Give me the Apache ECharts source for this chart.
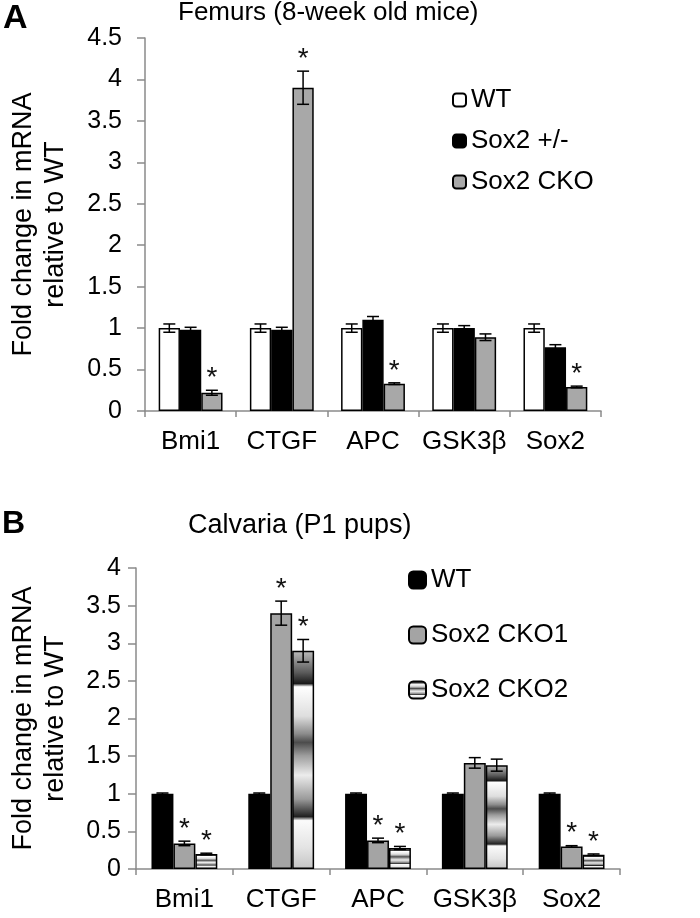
<!DOCTYPE html>
<html><head><meta charset="utf-8">
<script src="https://cdn.jsdelivr.net/npm/echarts@6/dist/echarts.min.js"></script>
<style>html,body{margin:0;padding:0;background:#fff}#c{width:700px;height:918px}</style>
</head><body><div id="c"></div>
<script>
// ---------- data ----------
const categories = ['Bmi1', 'CTGF', 'APC', 'GSK3β', 'Sox2'];

// Panel A: Femurs (8-week old mice)
const femurWT      = [1.00, 1.00, 1.00, 1.00, 1.00];
const femurWTErr   = [0.05, 0.05, 0.05, 0.05, 0.05];
const femurHet     = [0.98, 0.98, 1.10, 1.00, 0.77];
const femurHetErr  = [0.03, 0.03, 0.04, 0.03, 0.03];
const femurCKO     = [0.22, 3.90, 0.33, 0.89, 0.29];
const femurCKOErr  = [0.03, 0.20, 0.01, 0.04, 0.01];
const femurCKOStar = [1, 1, 1, 0, 1];

// Panel B: Calvaria (P1 pups)
const calvWT       = [1.00, 1.00, 1.00, 1.00, 1.00];
const calvWTErr    = [0.01, 0.01, 0.01, 0.01, 0.01];
const calvCKO1     = [0.34, 3.40, 0.38, 1.41, 0.30];
const calvCKO1Err  = [0.03, 0.16, 0.03, 0.07, 0.01];
const calvCKO2     = [0.20, 2.90, 0.28, 1.38, 0.19];
const calvCKO2Err  = [0.01, 0.15, 0.02, 0.08, 0.01];
const calvCKO1Star = [1, 1, 1, 0, 1];
const calvCKO2Star = [1, 1, 1, 0, 1];

const yMaxA = 4.5, yMaxB = 4, yStep = 0.5;

// ---------- styles ----------
const FONT = 'Liberation Sans, Arial, sans-serif';
const GAP_A = 0.30, GAP_B = 0.32;
const metal = new echarts.graphic.LinearGradient(0, 0, 0, 1, [
  {offset: 0.00, color: '#bdbdbd'},
  {offset: 0.10, color: '#5a5a5a'},
  {offset: 0.150, color: '#1a1a1a'},
  {offset: 0.165, color: '#ffffff'},
  {offset: 0.30, color: '#dedede'},
  {offset: 0.38, color: '#8c8c8c'},
  {offset: 0.42, color: '#4c4c4c'},
  {offset: 0.48, color: '#9c9c9c'},
  {offset: 0.57, color: '#ececec'},
  {offset: 0.68, color: '#9a9a9a'},
  {offset: 0.760, color: '#202020'},
  {offset: 0.778, color: '#fbfbfb'},
  {offset: 0.90, color: '#e4e4e4'},
  {offset: 1.00, color: '#c4c4c4'}
]);

function barSeries(name, axis, vals, color, gap) {
  return {
    name, type: 'bar', xAxisIndex: axis, yAxisIndex: axis,
    data: vals, barGap: '0%', barCategoryGap: (gap * 100) + '%',
    itemStyle: {color, borderColor: '#000', borderWidth: 1.5},
    emphasis: {disabled: true}
  };
}

function errSeries(axis, slot, gap, vals, errs, stars) {
  return {
    type: 'custom', xAxisIndex: axis, yAxisIndex: axis, z: 10, silent: true,
    data: vals.map((v, i) => [i, v, errs[i], stars ? stars[i] : 0]),
    renderItem(params, api) {
      const i = api.value(0), v = api.value(1), e = api.value(2), s = api.value(3);
      const band = api.size([1, 0])[0];
      const w = band * (1 - gap) / 3;
      const cx = api.coord([i, v])[0] + (slot - 1) * w;
      const yTop = api.coord([i, v + e])[1];
      const yBot = api.coord([i, v - e])[1];
      const cap = 6;
      const st = {stroke: '#000', lineWidth: 1.5};
      const children = [
        {type: 'line', shape: {x1: cx, y1: yTop, x2: cx, y2: yBot}, style: st},
        {type: 'line', shape: {x1: cx - cap, y1: yTop, x2: cx + cap, y2: yTop}, style: st},
        {type: 'line', shape: {x1: cx - cap, y1: yBot, x2: cx + cap, y2: yBot}, style: st}
      ];
      if (s) {
        children.push({type: 'text', style: {text: '*', x: cx, y: yTop - 12, align: 'center',
          verticalAlign: 'middle', fontSize: 28, fontFamily: FONT, fill: '#111'}});
      }
      return {type: 'group', children};
    }
  };
}

function xAx(grid) {
  return {
    type: 'category', gridIndex: grid, data: categories,
    axisLine: {lineStyle: {color: '#8a8a8a', width: 1.5}},
    axisTick: {show: true, length: 6, lineStyle: {color: '#8a8a8a', width: 1.5}},
    axisLabel: {interval: 0, fontSize: 26, color: '#000', fontFamily: FONT, margin: 18},
    splitLine: {show: false}
  };
}
function yAx(grid, max, margin, gapName) {
  return {
    type: 'value', gridIndex: grid, min: 0, max, interval: yStep,
    name: 'Fold change in mRNA\nrelative to WT', nameLocation: 'middle', nameRotate: 90, nameGap: gapName,
    nameTextStyle: {fontSize: 27, color: '#000', fontFamily: FONT, lineHeight: 32, align: 'center'},
    axisLine: {show: true, lineStyle: {color: '#8a8a8a', width: 1.5}},
    axisTick: {show: true, length: 8, lineStyle: {color: '#8a8a8a', width: 1.5}},
    axisLabel: {fontSize: 25, color: '#000', fontFamily: FONT, margin},
    splitLine: {show: false}
  };
}

const chart = echarts.init(document.getElementById('c'));
chart.setOption({
  backgroundColor: '#fff',
  animation: false,
  title: [
    {text: 'Femurs (8-week old mice)', left: 178, top: 0, padding: 0,
     textStyle: {fontSize: 26, fontWeight: 'normal', color: '#000', fontFamily: FONT}},
    {text: 'Calvaria (P1 pups)', left: 188, top: 512, padding: 0,
     textStyle: {fontSize: 27, fontWeight: 'normal', color: '#000', fontFamily: FONT}}
  ],
  graphic: [
    {type: 'text', left: 3, top: 2, style: {text: 'A', fontSize: 34, fontWeight: 'bold', fontFamily: FONT, fill: '#000'}},
    {type: 'text', left: 2, top: 508, style: {text: 'B', fontSize: 32, fontWeight: 'bold', fontFamily: FONT, fill: '#000'}}
  ],
  legend: [
    {data: ['WT_A', 'Sox2 +/-', 'Sox2 CKO'], orient: 'vertical', left: 447, top: 82,
     itemWidth: 13, itemHeight: 13, itemGap: 15, selectedMode: false,
     formatter: n => n.replace('_A', ''),
     textStyle: {fontSize: 26, color: '#000', fontFamily: FONT}},
    {data: ['WT_B', 'Sox2 CKO1', 'Sox2 CKO2'], orient: 'vertical', left: 403, top: 562,
     itemWidth: 17, itemHeight: 17, itemGap: 29, selectedMode: false,
     formatter: n => n.replace('_B', ''),
     textStyle: {fontSize: 26, color: '#000', fontFamily: FONT}}
  ],
  grid: [
    {left: 136, top: 38, width: 465, height: 373},
    {left: 126, top: 568, width: 494, height: 301}
  ],
  xAxis: [xAx(0), xAx(1)],
  yAxis: [yAx(0, yMaxA, 23, 73), yAx(1, yMaxB, 15, 64)],
  series: [
    barSeries('WT_A', 0, femurWT, '#ffffff', GAP_A),
    barSeries('Sox2 +/-', 0, femurHet, '#000000', GAP_A),
    barSeries('Sox2 CKO', 0, femurCKO, '#a8a8a8', GAP_A),
    errSeries(0, 0, GAP_A, femurWT, femurWTErr, null),
    errSeries(0, 1, GAP_A, femurHet, femurHetErr, null),
    errSeries(0, 2, GAP_A, femurCKO, femurCKOErr, femurCKOStar),
    barSeries('WT_B', 1, calvWT, '#000000', GAP_B),
    barSeries('Sox2 CKO1', 1, calvCKO1, '#a4a4a4', GAP_B),
    barSeries('Sox2 CKO2', 1, calvCKO2, metal, GAP_B),
    errSeries(1, 0, GAP_B, calvWT, calvWTErr, null),
    errSeries(1, 1, GAP_B, calvCKO1, calvCKO1Err, calvCKO1Star),
    errSeries(1, 2, GAP_B, calvCKO2, calvCKO2Err, calvCKO2Star)
  ]
});
</script></body></html>
